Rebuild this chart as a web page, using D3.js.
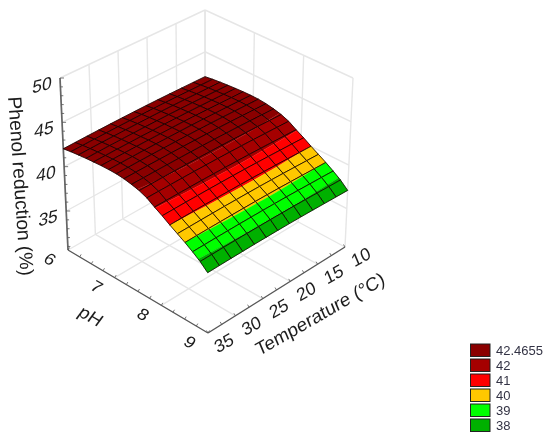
<!DOCTYPE html>
<html><head><meta charset="utf-8">
<script src="https://cdn.jsdelivr.net/npm/d3@7"></script>
<style>html,body{margin:0;padding:0;background:#fff}svg{display:block}text{font-family:"Liberation Sans",Arial,sans-serif}</style>
</head><body><svg id="c" width="550" height="443"></svg>
<script>
// ---- data ----
const phGrid = [6,6.158,6.316,6.474,6.632,6.789,6.947,7.105,7.263,7.421,7.579,7.737,7.895,8.053,8.211,8.368,8.526,8.684,8.842,9];
const tempGrid = [10,12.08,14.17,16.25,18.33,20.42,22.5,24.58,26.67,28.75,30.83,32.92,35];
const reductionByPH = [42.02,42.15,42.25,42.33,42.39,42.44,42.46,42.44,42.35,42.18,41.95,41.6,41.05,40.55,40.0,39.5,39.0,38.45,37.85,37.1];
const tempOffset = [0,0.03,0.06,0.09,0.11,0.12,0.12,0.11,0.1,0.08,0.06,0.03,0];
const zTicks = [35,40,45,50];
const phTicks = [6,7,8,9];
const tempTicks = [10,15,20,25,30,35];
const legendLabels = ["42.4655","42","41","40","39","38"];
const bandColors = ["#8a0000","#a50000","#ff0000","#ffc800","#00ff00","#00b000"];
const bandLower = [42,41,40,39,38,-99];

// ---- projection through scales ----
const svg = d3.select("#c");
const defs = svg.append("defs");
defs.append("filter").attr("id","soft").append("feGaussianBlur").attr("stdDeviation",0.35);
const root = svg.append("g").attr("filter","url(#soft)");
const U = d3.scaleLinear([6,9],[0,1]);
const V = d3.scaleLinear([10,35],[0,1]);
const W = d3.scaleLinear([30.6,50],[0,1]);
const floorC = {b:[205,172],l:[68,250],r:[345,247],f:[208,333]};
const topC = {b:[205,10],l:[60,78],r:[353,78],f:[207,153]};
function proj(ph,t,z){
  const u=U(ph),v=V(t),w=W(z);
  const bi=(c,i)=>(1-u)*(1-v)*c.b[i]+(1-u)*v*c.l[i]+u*(1-v)*c.r[i]+u*v*c.f[i];
  return [0,1].map(i=>bi(floorC,i)*(1-w)+bi(topC,i)*w);
}
const line = d3.line();
const zMin = W.domain()[0], zMax = W.domain()[1];

// ---- walls and floor grid ----
const grid = root.append("g").attr("fill","none").attr("stroke","#e6e6e6").attr("stroke-width",1.4);
const seg=(g,a,b)=>g.append("path").attr("d",line([a,b]));
tempTicks.forEach(t=>{
  seg(grid,proj(6,t,zMin),proj(6,t,zMax));
  seg(grid,proj(6,t,zMin),proj(9,t,zMin));
});
phTicks.forEach(p=>{
  seg(grid,proj(p,10,zMin),proj(p,10,zMax));
  seg(grid,proj(p,10,zMin),proj(p,35,zMin));
});
zTicks.forEach(z=>{
  seg(grid,proj(6,35,z),proj(6,10,z));
  seg(grid,proj(6,10,z),proj(9,10,z));
});

// ---- axes ----
const axis = root.append("g").attr("fill","none").attr("stroke","#555");
seg(axis,proj(6,35,zMin),proj(6,35,zMax)).attr("stroke-width",1.7).attr("stroke","#666");
seg(axis,proj(6,35,zMin),proj(9,35,zMin)).attr("stroke-width",1.2);
seg(axis,proj(9,35,zMin),proj(9,10,zMin)).attr("stroke-width",1.2);
d3.range(31,51).forEach(z=>{const p=proj(6,35,z);seg(axis,p,[p[0]+(z%5?2.5:4),p[1]]).attr("stroke-width",.8);});
d3.range(6,9.01,0.25).forEach(v=>{const p=proj(v,35,zMin);seg(axis,p,[p[0]+1.5,p[1]-2.5]).attr("stroke-width",.8);});
d3.range(10,35.01,2.5).forEach(t=>{const p=proj(9,t,zMin);seg(axis,p,[p[0]-1.5,p[1]-2.5]).attr("stroke-width",.8);});

// ---- surface, cell by cell, each cell cut by the legend's levels ----
const value=(i,j)=>reductionByPH[i]+tempOffset[j];
function clip(poly,test,level){
  const out=[];
  poly.forEach((a,k)=>{
    const b=poly[(k+1)%poly.length];
    const ai=test(a.z), bi=test(b.z);
    if(ai) out.push(a);
    if(ai!==bi){
      const s=(level-a.z)/(b.z-a.z);
      out.push({ph:a.ph+s*(b.ph-a.ph),t:a.t+s*(b.t-a.t),z:level});
    }
  });
  return out;
}
const surf = root.append("g");
const node=(i,j)=>({ph:phGrid[i],t:tempGrid[j],z:value(i,j)});
const toPath=p=>line(p.map(n=>proj(n.ph,n.t,n.z)))+"Z";
for(let i=0;i<phGrid.length-1;i++){
  for(let j=0;j<tempGrid.length-1;j++){
    const quad=[node(i,j),node(i,j+1),node(i+1,j+1),node(i+1,j)];
    bandColors.forEach((col,b)=>{
      const hi=b===0?Infinity:bandLower[b-1], lo=bandLower[b];
      let p=clip(quad,z=>z>=lo,lo);
      if(hi!==Infinity&&p.length) p=clip(p,z=>z<=hi,hi);
      if(p.length>2) surf.append("path").attr("d",toPath(p)).attr("fill",col).attr("stroke",col).attr("stroke-width",.3);
    });
    surf.append("path").attr("d",toPath(quad)).attr("fill","none").attr("stroke","#100000").attr("stroke-width",.8);
  }
}

// ---- text ----
function label(txt,x,y,m,size,anchor){
  root.append("text").attr("transform",`matrix(${m[0]},${m[1]},${m[2]},${m[3]},${x},${y})`)
    .attr("font-size",size).attr("text-anchor",anchor||"middle").attr("dominant-baseline","central").attr("fill","#1c1c1c").text(txt);
}
const zM=[.97,-.24,-.1,1], phM=[.87,.5,-.55,.75], tM=[.87,-.5,.38,.9];
zTicks.forEach(z=>{const p=proj(6,35,z);label(z,p[0]-18,p[1]+7,zM,18);});
phTicks.forEach(v=>{const p=proj(v,35,zMin);label(v,p[0]-18,p[1]+9,phM,18);});
tempTicks.forEach(t=>{const p=proj(9,t,zMin);label(t,p[0]+16,p[1]+10,tM,18);});
label("pH",91,316,phM,19);
label("Temperature (°C)",320,314,tM,19);
root.append("text").attr("transform","matrix(0.07,1,-1,0.07,8,97)").attr("font-size",19.2).attr("fill","#1c1c1c").attr("text-anchor","start").text("Phenol reduction (%)");

// ---- legend ----
const ly = d3.scalePoint(legendLabels,[344,419]);
const leg = root.append("g");
legendLabels.forEach((l,i)=>{
  leg.append("rect").attr("x",470.5).attr("y",ly(l)).attr("width",19.5).attr("height",12.5).attr("fill",bandColors[i]).attr("stroke","#222").attr("stroke-width",1);
  leg.append("text").attr("x",496).attr("y",ly(l)+6.5).attr("dominant-baseline","central").attr("font-size",13).attr("fill","#334").text(l);
});
</script></body></html>
